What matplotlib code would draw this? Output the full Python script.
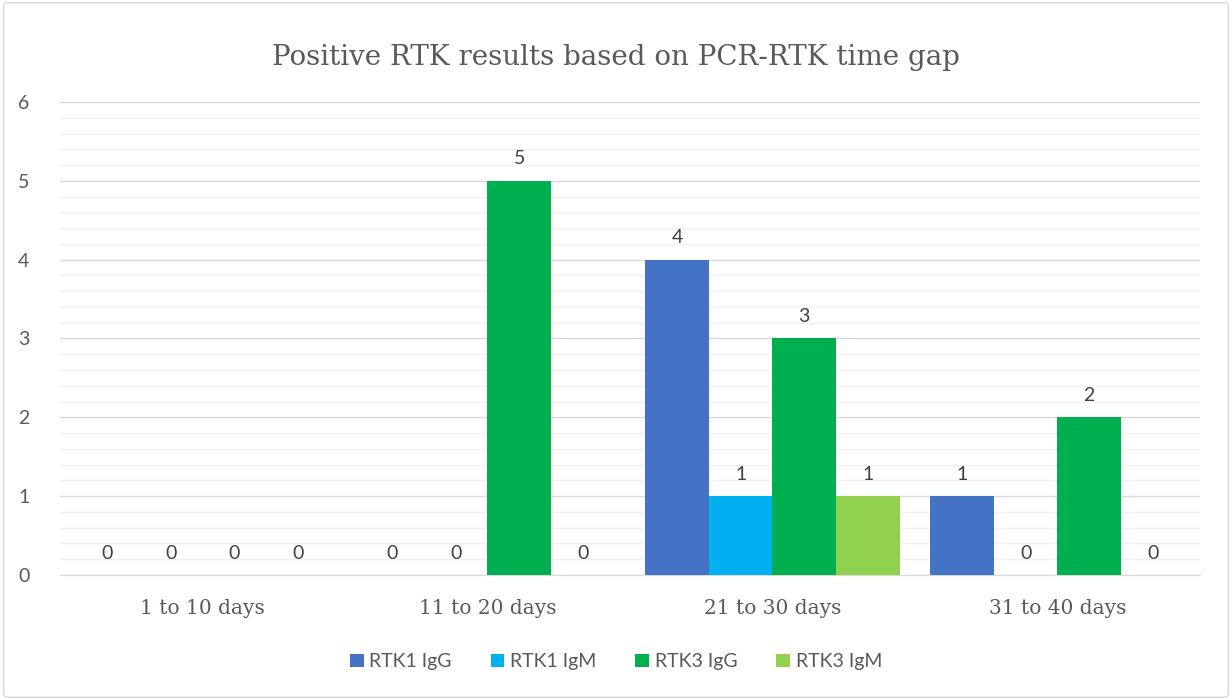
import matplotlib.pyplot as plt
import numpy as np
from matplotlib.patches import FancyBboxPatch
from matplotlib.ticker import MultipleLocator

categories = ["1 to 10 days", "11 to 20 days", "21 to 30 days", "31 to 40 days"]
series_names = ["RTK1 IgG", "RTK1 IgM", "RTK3 IgG", "RTK3 IgM"]
rtk1_igg = [0, 0, 4, 1]
rtk1_igm = [0, 0, 1, 0]
rtk3_igg = [0, 5, 3, 2]
rtk3_igm = [0, 0, 1, 0]
colors = ["#4472C4", "#00B0F0", "#00B050", "#92D050"]

text_col = "#595959"
plt.rcParams["font.family"] = ["Lato", "DejaVu Sans"]

fig = plt.figure(figsize=(12.32, 7), dpi=100)
ax = fig.add_axes([0.0487, 0.1786, 0.9253, 0.6757])

# chart border
fig.patches.append(FancyBboxPatch((0.003, 0.004), 0.994, 0.992, boxstyle="round,pad=0,rounding_size=0.004",
                                  transform=fig.transFigure, fill=False, edgecolor="#D9D9D9", linewidth=1))

x = np.arange(len(categories))
width = 0.223
all_series = [rtk1_igg, rtk1_igm, rtk3_igg, rtk3_igm]
for i, (vals, name, c) in enumerate(zip(all_series, series_names, colors)):
    pos = x + (i - 1.5) * width
    bars = ax.bar(pos, vals, width, color=c, label=name, zorder=3)
    for b, v in zip(bars, vals):
        ax.text(b.get_x() + b.get_width() / 2, v + 0.17, str(v), ha="center", va="bottom",
                fontsize=14, color="#404040")

ax.set_xlim(-0.5, 3.5)
ax.set_ylim(0, 6)
ax.yaxis.set_major_locator(MultipleLocator(1))
ax.yaxis.set_minor_locator(MultipleLocator(0.2))
ax.grid(axis="y", which="major", color="#D9D9D9", linewidth=1, zorder=0)
ax.grid(axis="y", which="minor", color="#F0F0F0", linewidth=1, zorder=0)
for s in ["top", "right", "left"]:
    ax.spines[s].set_visible(False)
ax.spines["bottom"].set_color("#D9D9D9")
ax.tick_params(axis="both", which="both", length=0, colors=text_col, labelsize=14)
ax.tick_params(axis="y", pad=22)
ax.tick_params(axis="x", pad=17)
ax.set_xticks(x)
ax.set_xticklabels(categories, family=["DejaVu Serif"], fontsize=14.5)
ax.set_yticks(range(0, 7))

fig.text(0.5, 0.918, "Positive RTK results based on PCR-RTK time gap", ha="center", va="center",
         fontsize=20, color=text_col, family=["DejaVu Serif"])

leg = ax.legend(loc="center", bbox_to_anchor=(0.5, 0.0543), bbox_transform=fig.transFigure, ncol=4,
                frameon=False, fontsize=14, handlelength=0.7, handleheight=0.7, handletextpad=0.3,
                columnspacing=2.0, labelcolor=text_col)

fig.savefig("out.png", dpi=100)
